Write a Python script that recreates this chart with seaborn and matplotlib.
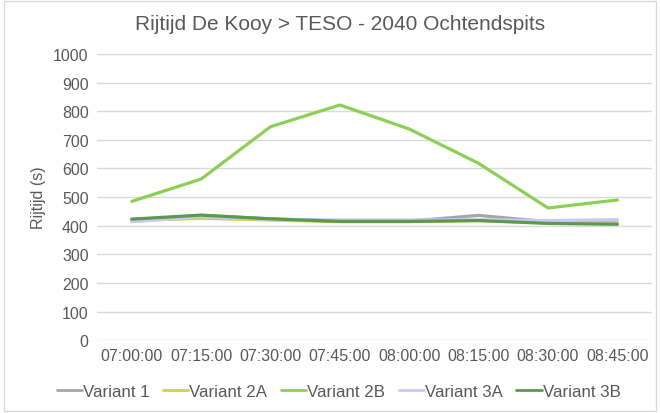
import matplotlib
matplotlib.use("Agg")
import matplotlib.pyplot as plt
import seaborn as sns
import pandas as pd
from matplotlib.patches import Rectangle

# Travel time per departure slot (seconds)
times = ["07:00:00", "07:15:00", "07:30:00", "07:45:00",
         "08:00:00", "08:15:00", "08:30:00", "08:45:00"]
variant_1 = [420, 436, 424, 416, 416, 436, 414, 410]
variant_2a = [418, 426, 420, 414, 414, 418, 410, 408]
variant_2b = [485, 563, 746, 822, 738, 618, 462, 490]
variant_3a = [414, 432, 422, 420, 420, 421, 418, 421]
variant_3b = [423, 437, 424, 415, 415, 418, 408, 405]

variants = ["Variant 1", "Variant 2A", "Variant 2B", "Variant 3A", "Variant 3B"]
series = [variant_1, variant_2a, variant_2b, variant_3a, variant_3b]
colors = ["#A5A5A5", "#D2CB5C", "#8DCF55", "#C8C8F5", "#5B9A4C"]

rows = []
for name, vals in zip(variants, series):
    for t, v in zip(times, vals):
        rows.append({"Tijd": t, "Rijtijd": v, "Variant": name})
df = pd.DataFrame(rows)

sns.set_theme(style="white")
plt.rcParams["font.family"] = ["Liberation Sans", "DejaVu Sans"]
text_color = "#595959"

fig = plt.figure(figsize=(6.6, 4.14), dpi=100)
ax = fig.add_axes([0.147, 0.176, 0.841, 0.691])

sns.lineplot(data=df, x="Tijd", y="Rijtijd", hue="Variant",
             hue_order=variants, palette=colors, linewidth=2.3,
             sort=False, ax=ax)

ax.set_ylim(0, 1000)
ax.set_yticks(range(0, 1001, 100))
ax.set_xlim(-0.5, len(times) - 0.5)
ax.grid(axis="y", color="#D9D9D9", linewidth=1)
ax.set_axisbelow(True)
for s in ax.spines.values():
    s.set_visible(False)
ax.tick_params(axis="both", length=0, labelcolor=text_color, pad=6)
ax.tick_params(axis="x", labelsize=11.5)
ax.tick_params(axis="y", labelsize=11.5)
ax.set_xlabel("")
ax.set_ylabel("Rijtijd (s)", fontsize=11.5, color=text_color, labelpad=5)

fig.text(0.515, 0.94, "Rijtijd De Kooy > TESO - 2040 Ochtendspits",
         ha="center", va="center", fontsize=15, color=text_color)

handles, labels = ax.get_legend_handles_labels()
for h in handles:
    h.set_linewidth(2)
ax.legend(handles, labels, loc="center", bbox_to_anchor=(0.513, 0.051),
          bbox_transform=fig.transFigure, ncol=5, frameon=False, fontsize=12.2,
          handlelength=1.5, handletextpad=0.05, columnspacing=0.8,
          labelcolor=text_color)

fig.add_artist(Rectangle((0.006, 0.006), 0.988, 0.988, transform=fig.transFigure,
                         fill=False, edgecolor="#D9D9D9", linewidth=1))

fig.savefig("out.png", dpi=100)
